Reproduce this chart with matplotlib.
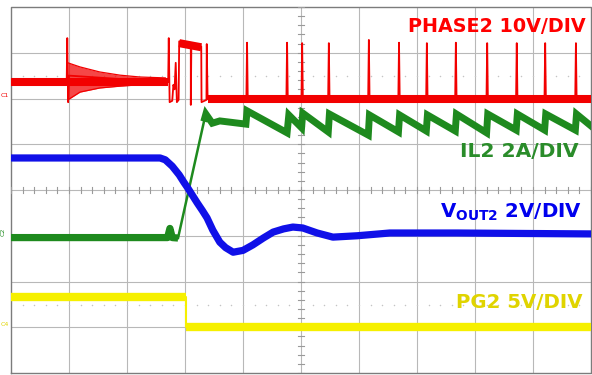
import numpy as np
import matplotlib
matplotlib.use("Agg")
import matplotlib.pyplot as plt

plt.rcParams['font.family'] = ['DejaVu Sans']
plt.rcParams['mathtext.fontset'] = 'dejavusans'

# ---------------- data (time in divisions, level in divisions) ----------------
# PHASE2 (red) - thin outline of edges before steady switching
red_t = [0.00, 0.96, 0.97, 0.985, 1.00, 2.66, 2.71, 2.72, 2.735, 2.78, 2.80, 2.82,
         2.84, 2.86, 2.89, 2.90, 3.10, 3.10, 3.11, 3.28, 3.285, 3.37, 3.375, 3.39]
red_v = [6.36, 6.36, 7.32, 5.92, 6.50, 6.36, 6.36, 7.32, 5.92, 5.95, 6.30, 6.20,
         6.78, 5.92, 5.97, 7.25, 7.20, 5.86, 7.20, 7.14, 5.92, 5.97, 7.19, 5.99]
red_low = 5.99
red_spike_t = [4.07, 4.76, 5.02, 5.48, 6.17, 6.69, 7.17, 7.67, 8.21, 8.72, 9.21, 9.74]
red_spike_top = [7.22, 7.22, 7.21, 7.21, 7.28, 7.22, 7.21, 7.22, 7.21, 7.21, 7.21, 7.21]
# ringing envelope after first spike
ring_t = [0.98, 1.19, 1.53, 1.88, 2.22, 2.66]
ring_hi = [6.78, 6.69, 6.58, 6.51, 6.47, 6.45]
ring_lo = [5.97, 6.14, 6.23, 6.27, 6.30, 6.30]
# noisy bands of the red trace (start, end, level_start, level_end)
red_band_t0 = [0.00, 2.66, 2.90, 3.39]
red_band_t1 = [2.66, 2.71, 3.28, 10.0]
red_band_v0 = [6.36, 6.36, 7.21, 5.99]
red_band_v1 = [6.36, 6.36, 7.12, 5.99]

# IL2 (green)
il_flat_t = [0.00, 2.70, 2.74, 2.78, 2.88]
il_flat_v = [2.96, 2.96, 3.16, 2.96, 2.95]
il_rise_t = [2.88, 3.34]
il_rise_v = [2.95, 5.57]
il_t = [3.34, 3.36, 3.47, 3.60, 4.05, 4.07, 4.76, 4.79, 5.01, 5.03, 5.47, 5.49,
        6.16, 6.18, 6.68, 6.70, 7.16, 7.18, 7.66, 7.68, 8.20, 8.22, 8.71, 8.73,
        9.20, 9.22, 9.73, 9.75, 10.0]
il_v = [5.57, 5.66, 5.46, 5.51, 5.44, 5.73, 5.25, 5.64, 5.36, 5.68, 5.27, 5.66,
        5.20, 5.64, 5.27, 5.64, 5.29, 5.64, 5.29, 5.66, 5.25, 5.66, 5.31, 5.66,
        5.31, 5.66, 5.31, 5.66, 5.40]

# VOUT2 (blue)
vo_t = [0.00, 2.57, 2.66, 2.78, 2.90, 2.98, 3.05, 3.13, 3.21, 3.30, 3.38, 3.48,
        3.60, 3.70, 3.83, 4.00, 4.17, 4.35, 4.52, 4.70, 4.86, 5.03, 5.28, 5.55,
        5.97, 6.53, 7.69, 10.0]
vo_v = [4.70, 4.70, 4.66, 4.52, 4.33, 4.17, 4.04, 3.88, 3.72, 3.55, 3.39, 3.12,
        2.86, 2.74, 2.64, 2.68, 2.80, 2.95, 3.08, 3.15, 3.19, 3.17, 3.06, 2.97,
        3.00, 3.06, 3.06, 3.04]

# PG2 (yellow)
pg_t = [0.00, 3.02, 3.02, 10.0]
pg_v = [1.67, 1.67, 1.01, 1.01]

# cursor (dotted) reference levels
dot_levels = [6.49, 1.49]

labels = ["PHASE2 10V/DIV", "IL2 2A/DIV", r"V$_{\mathbf{OUT2}}$ 2V/DIV", "PG2 5V/DIV"]

# ---------------- drawing ----------------
RED = '#f20000'
GREEN = '#1e8a1e'
BLUE = '#1010e8'
YEL = '#f6f000'

fig = plt.figure(figsize=(5.92, 3.75), dpi=100)
ax = fig.add_axes([11/592, 2/375, 580/592, 366/375])
ax.set_xlim(0, 10)
ax.set_ylim(0, 8)
ax.axis('off')

# grid
for x in range(1, 10):
    ax.plot([x, x], [0, 8], color='#b8b8b8', lw=0.8, zorder=1)
for y in range(1, 8):
    ax.plot([0, 10], [y, y], color='#b8b8b8', lw=0.8, zorder=1)
ax.plot([0, 10, 10, 0, 0], [0, 0, 8, 8, 0], color='#7c7c7c', lw=1.0, zorder=1,
        clip_on=False)
# center ticks
for x in np.arange(0, 10.001, 0.2):
    ax.plot([x, x], [4 - 0.07, 4 + 0.07], color='#9a9a9a', lw=0.8, zorder=1)
for y in np.arange(0, 8.001, 0.2):
    ax.plot([5 - 0.05, 5 + 0.05], [y, y], color='#9a9a9a', lw=0.8, zorder=1)
# dotted cursor lines
xs = np.arange(0.2, 10, 0.2)
for lv in dot_levels:
    ax.scatter(xs, np.full_like(xs, lv), s=1.2, color='#c4c4c4', zorder=1,
               linewidths=0)

# yellow
ax.plot(pg_t[:2], pg_v[:2], color=YEL, lw=6.0, solid_capstyle='butt', zorder=3)
ax.plot(pg_t[2:], pg_v[2:], color=YEL, lw=6.0, solid_capstyle='butt', zorder=3)
ax.plot(pg_t, pg_v, color=YEL, lw=1.5, zorder=3)

# green
ax.plot(il_flat_t, il_flat_v, color=GREEN, lw=5.2, solid_capstyle='butt', zorder=4)
ax.plot(il_rise_t, il_rise_v, color=GREEN, lw=1.8, zorder=4)
ax.plot(il_t, il_v, color=GREEN, lw=5.0, solid_joinstyle='miter', zorder=4)

# blue
ax.plot(vo_t, vo_v, color=BLUE, lw=5.2, solid_capstyle='butt', zorder=5)

# red
rt = list(red_t)
rv = list(red_v)
w = 0.012
for st, top in zip(red_spike_t, red_spike_top):
    rt += [st - w, st, st + w]
    rv += [red_low, top, red_low]
rt.append(10.0)
rv.append(red_low)
ax.fill_between(ring_t, ring_lo, ring_hi, color=RED, alpha=0.72, lw=0, zorder=6)
ax.plot(ring_t, ring_hi, color=RED, lw=0.9, zorder=6)
ax.plot(ring_t, ring_lo, color=RED, lw=0.9, zorder=6)
for t0, t1, v0, v1 in zip(red_band_t0, red_band_t1, red_band_v0, red_band_v1):
    ax.plot([t0, t1], [v0, v1], color=RED, lw=5.8, solid_capstyle='butt', zorder=6)
ax.plot(rt, rv, color=RED, lw=1.3, zorder=6)

# channel labels
fig.text(586/592, 1 - 27/375, labels[0], color='#ff0000', fontsize=13.8,
         fontweight='bold', ha='right', va='center')
fig.text(578/592, 1 - 151/375, labels[1], color='#2a8c2a', fontsize=14.6,
         fontweight='bold', ha='right', va='center')
fig.text(582/592, 1 - 212/375, labels[2], color='#0000ee', fontsize=14.2,
         fontweight='bold', ha='right', va='center')
fig.text(583/592, 1 - 302/375, labels[3], color='#e0d400', fontsize=14.2,
         fontweight='bold', ha='right', va='center')

# small channel markers at the left edge
fig.text(1/592, 1 - 95/375, 'C1', color=RED, fontsize=4.5, ha='left', va='center')
fig.text(1/592, 1 - 232/375, 'C2', color=GREEN, fontsize=4.5, ha='left',
         va='center', rotation=90)
fig.text(1/592, 1 - 324/375, 'C4', color='#e0d400', fontsize=4.5, ha='left',
         va='center')

fig.savefig('out.png', dpi=100, facecolor='white')
